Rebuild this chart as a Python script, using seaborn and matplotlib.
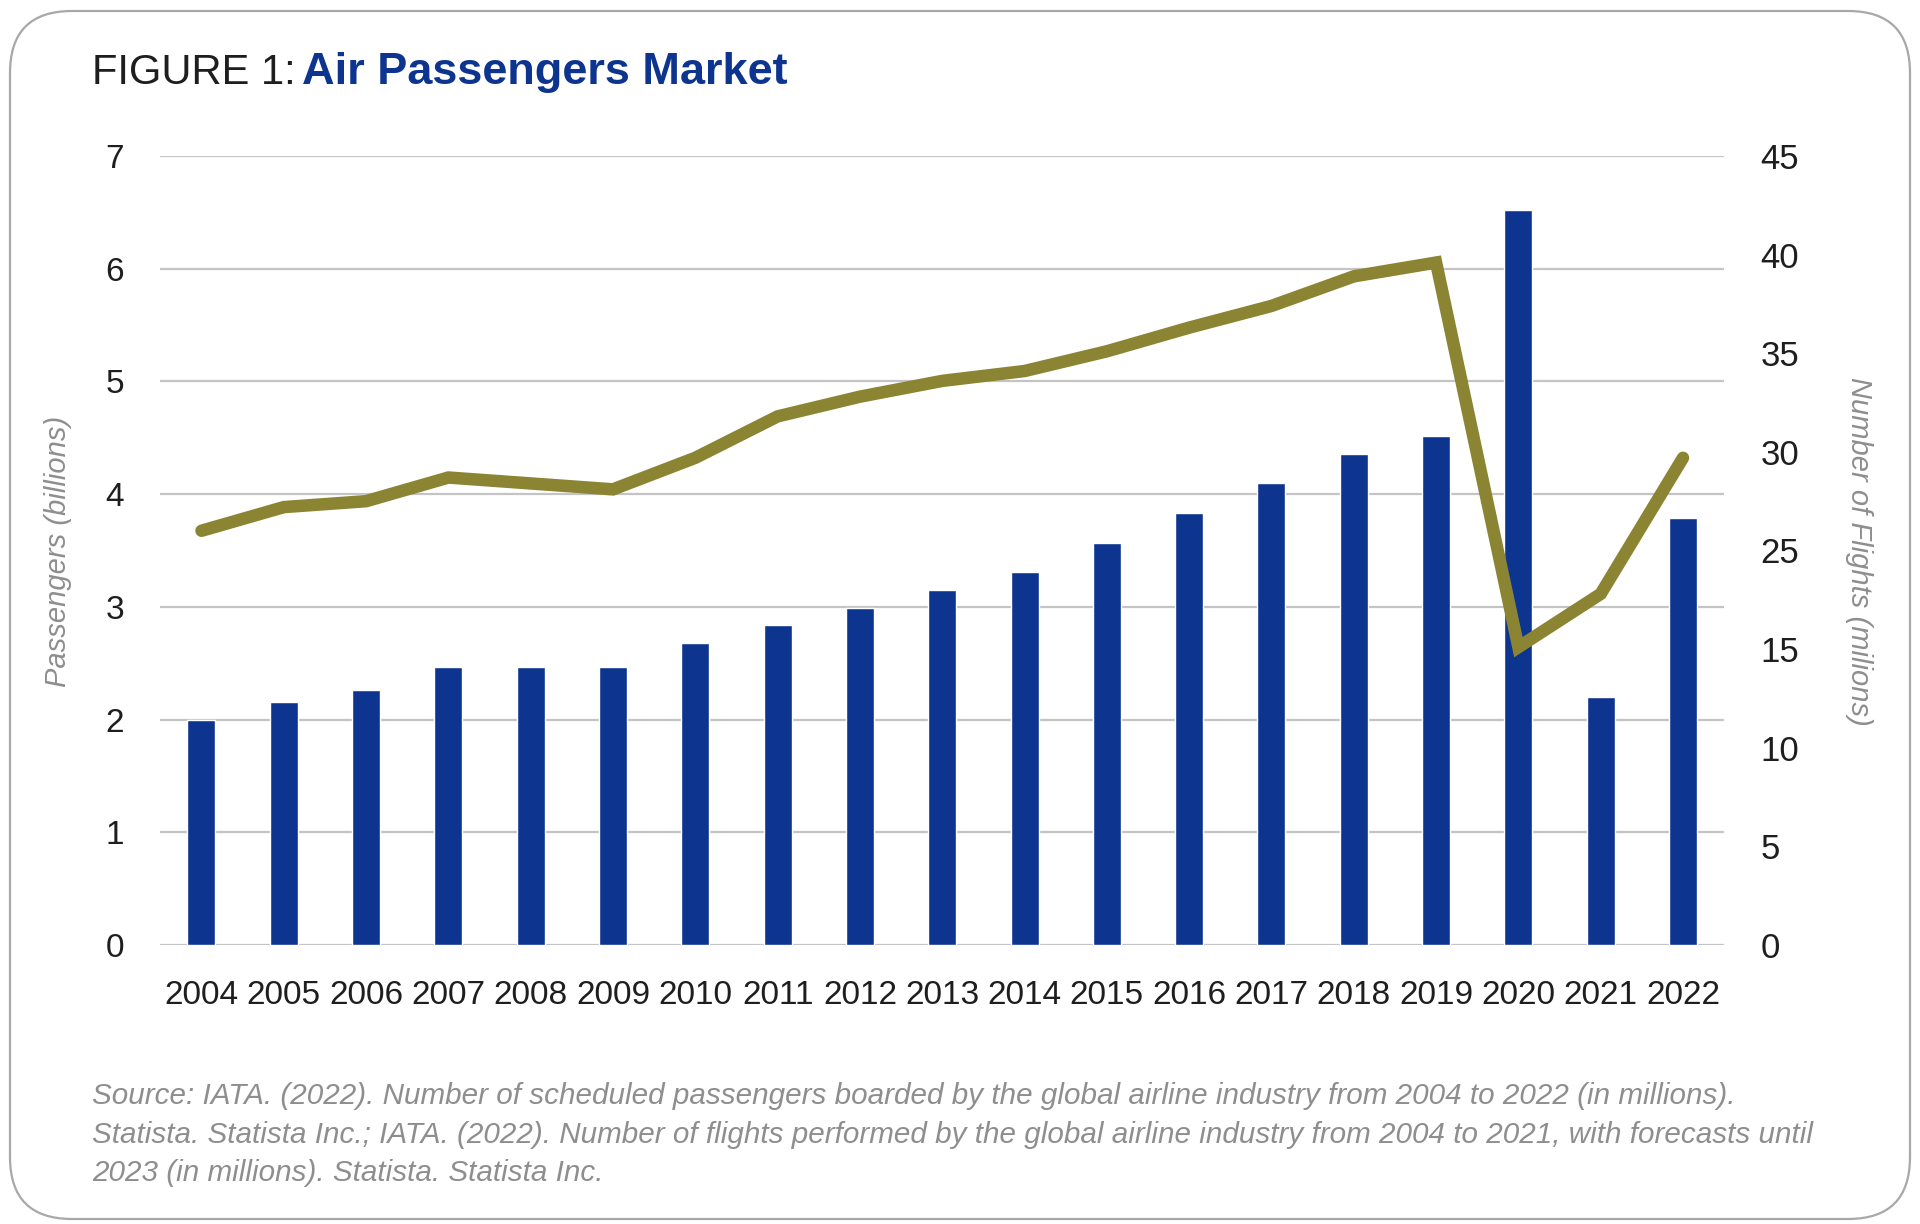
import matplotlib
matplotlib.use('Agg')
import matplotlib.pyplot as plt
import numpy as np
import pandas as pd
import seaborn as sns
from matplotlib.patches import FancyBboxPatch
from matplotlib.transforms import IdentityTransform

years = ['2004', '2005', '2006', '2007', '2008', '2009', '2010', '2011', '2012', '2013',
         '2014', '2015', '2016', '2017', '2018', '2019', '2020', '2021', '2022']
passengers = [2.00, 2.16, 2.26, 2.47, 2.47, 2.47, 2.68, 2.84, 2.99, 3.15,
              3.31, 3.57, 3.83, 4.10, 4.36, 4.52, 6.52, 2.20, 3.79]
flights = [21.0, 22.2, 22.5, 23.7, 23.4, 23.1, 24.7, 26.8, 27.8, 28.6,
           29.1, 30.1, 31.3, 32.4, 33.9, 34.6, 15.1, 17.8, 24.7]
left_ticks = [0, 1, 2, 3, 4, 5, 6, 7]
right_ticks = [0, 5, 10, 15, 20, 25, 30, 35, 40]
right_tick_labels = ['0', '5', '10', '15', '25', '30', '35', '40', '45']

source_lines = [
    'Source: IATA. (2022). Number of scheduled passengers boarded by the global airline industry from 2004 to 2022 (in millions).',
    'Statista. Statista Inc.; IATA. (2022). Number of flights performed by the global airline industry from 2004 to 2021, with forecasts until',
    '2023 (in millions). Statista. Statista Inc.',
]

BLUE = '#0d3590'
OLIVE = '#8b8433'
GRID = '#c4c4c4'
GREY_TXT = '#8e8e8e'
DARK = '#1e1e1e'

sns.set_theme(style='white')
plt.rcParams['font.family'] = ['Liberation Sans', 'DejaVu Sans']

df = pd.DataFrame({'year': years, 'passengers': passengers, 'flights': flights})

fig = plt.figure(figsize=(19.2, 12.24), dpi=100)
fig.patch.set_facecolor('white')

# rounded frame around the whole figure
frame = FancyBboxPatch((10, 5), 1900, 1208, boxstyle='round,pad=0,rounding_size=62',
                       transform=IdentityTransform(), facecolor='none',
                       edgecolor='#a8a8a8', linewidth=1.6, zorder=0)
fig.patches.append(frame)

ax = fig.add_axes([0.0835, 0.228, 0.8145, 0.6445])
sns.barplot(data=df, x='year', y='passengers', color=BLUE, saturation=1,
            width=0.34, ax=ax, zorder=3)
ax.set_ylim(0, 7)
ax.set_yticks(left_ticks)
ax.yaxis.grid(True, color=GRID, linewidth=1.6)
ax.set_axisbelow(True)
for s in ax.spines.values():
    s.set_visible(False)
ax.tick_params(axis='both', length=0, labelsize=24, colors=DARK)
ax.tick_params(axis='y', pad=26)
ax.tick_params(axis='x', pad=25)
ax.set_xlabel('')
ax.set_ylabel('')

ax2 = ax.twinx()
sns.lineplot(x=np.arange(len(years)), y=df['flights'], ax=ax2, color=OLIVE,
             linewidth=9, solid_capstyle='round', solid_joinstyle='miter')
ax2.set_ylim(0, 40)
ax2.set_yticks(right_ticks)
ax2.set_yticklabels(right_tick_labels)
ax2.tick_params(axis='y', length=0, labelsize=25, colors=DARK, pad=26)
ax2.set_ylabel('')
for s in ax2.spines.values():
    s.set_visible(False)
ax2.grid(False)
ax.set_xlim(-0.5, len(years) - 0.5)

fig.text(0.030, 0.5495, 'Passengers (billions)', rotation=90, ha='center', va='center',
         fontsize=21, style='italic', color=GREY_TXT)
fig.text(0.968, 0.5495, 'Number of Flights (milions)', rotation=-90, ha='center', va='center',
         fontsize=21, style='italic', color=GREY_TXT)

# title in two parts
t1 = fig.text(0.048, 0.931, 'FIGURE 1:', fontsize=30, color=DARK,
              ha='left', va='baseline')
fig.canvas.draw()
bb = t1.get_window_extent(renderer=fig.canvas.get_renderer())
x2 = bb.x1 / fig.bbox.width
fig.text(x2 + 0.003, 0.931, 'Air Passengers Market', fontsize=32.5, fontweight='bold',
         color=BLUE, ha='left', va='baseline')

for i, line in enumerate(source_lines):
    fig.text(0.048, 0.1046 - i * 0.0315, line, fontsize=21.3, style='italic',
             color=GREY_TXT, ha='left', va='center')

fig.savefig('out.png', dpi=100, facecolor='white')
